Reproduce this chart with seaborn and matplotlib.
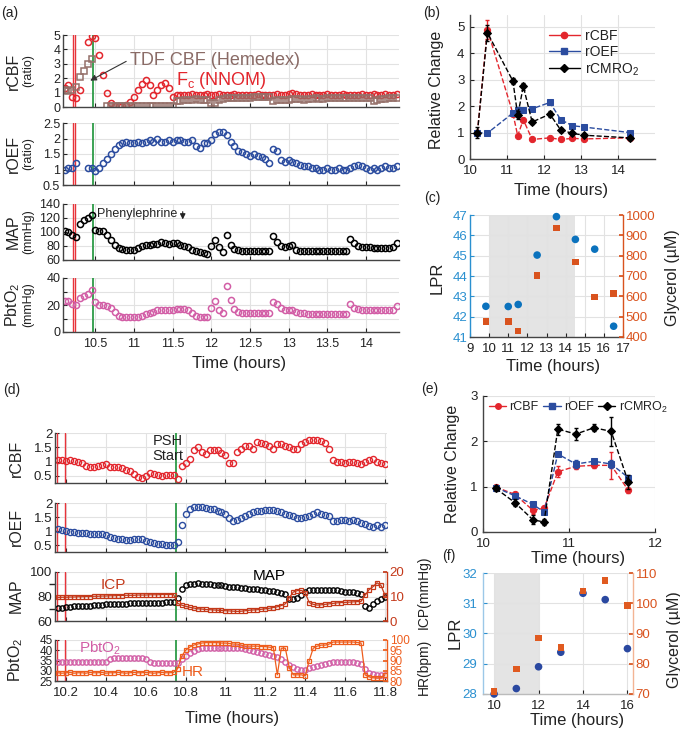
import numpy as np
import seaborn as sns
import matplotlib.pyplot as plt
from matplotlib.lines import Line2D
from matplotlib.ticker import FuncFormatter

nan = np.nan

# ---------------- panel (a): continuous monitoring, 0.05 h samples ----------------
a_time = np.round(10.10 + 0.05 * np.arange(87), 2)
a_rcbf_fc = [
    1.3, 1.5, 0.7, 0.6, 1.2, nan, 4.5, 4.9, 4.8, 3.6,
    2.2, 1.0, 0.3, 0.1, 0.05, 0.05, 0.15, 0.35, 0.7, 1.2,
    1.6, 1.9, 1.5, 0.8, 1.2, 1.5, 1.65, 1.3, 0.7, 0.8,
    0.85, 0.8, 0.85, 0.9, 0.85, 0.8, 0.85, 0.9, 0.85, 0.8,
    0.9, 0.85, 0.8, 0.85, 0.9, 0.85, 0.8, 0.85, 0.8, 0.85,
    0.9, 0.85, 0.8, 0.85, 0.8, 0.9, 0.85, 0.8, 0.9, 0.95,
    0.9, 0.85, 0.8, 0.85, 0.9, 0.85, 0.8, 0.85, 0.9, 0.85,
    0.8, 0.85, 0.9, 0.85, 0.85, 0.8, 0.85, 0.9, 0.85, 0.8,
    0.9, 0.85, 0.85, 0.9, 0.85, 0.85, 0.9]
a_rcbf_tdf = [
    1.2, 1.1, 1.2, 1.4, 2.1, 2.5, 3.0, 3.3, nan, nan,
    nan, 0.1, 0.05, 0.05, 0.05, 0.05, 0.05, 0.05, 0.05, 0.05,
    0.05, 0.05, 0.05, 0.05, 0.05, 0.05, 0.05, 0.05, 0.05, 0.45,
    0.45, 0.5, 0.5, 0.5, 0.55, 0.5, 0.5, 0.5, 0.25, 0.3,
    0.5, 0.55, 0.6, 0.6, 0.6, 0.65, 0.6, 0.65, 0.65, 0.7,
    0.7, 0.7, 0.7, 0.7, 0.45, 0.5, 0.5, 0.5, 0.5, 0.55,
    0.55, 0.55, 0.5, 0.55, 0.55, 0.6, 0.55, 0.55, 0.6, 0.6,
    0.6, 0.6, 0.6, 0.65, 0.6, 0.6, 0.65, 0.65, 0.65, 0.6,
    0.45, 0.5, 0.55, 0.55, 0.6, 0.6, 0.6]
a_roef = [
    1.0, 1.05, 1.05, 1.2, nan, nan, 1.05, 1.05, 0.95, 1.05,
    1.2, 1.35, 1.5, 1.65, 1.8, 1.85, 1.9, 1.85, 1.85, 1.9,
    1.85, 1.9, 1.95, 1.9, 2.0, 1.9, 1.9, 1.95, 1.9, 1.95,
    1.95, 1.9, 1.9, 1.95, 1.75, 1.7, 1.85, 1.85, 1.95, 2.15,
    2.2, 2.2, 2.1, 1.9, 1.75, 1.6, 1.55, 1.5, 1.45, 1.5,
    1.45, 1.4, 1.35, 1.2, 1.65, 1.6, 1.3, 1.25, 1.3, 1.25,
    1.2, 1.15, 1.1, 1.1, 1.05, 1.05, 1.0, 1.0, 1.05, 1.0,
    1.0, 1.05, 1.0, 1.0, 1.05, 1.1, 1.15, 1.1, 1.05, 1.0,
    1.05, 1.0, 1.05, 1.1, 1.05, 1.05, 1.1]
a_map = [
    101, 100, 96, 93, 112, 117, 120, 125, 103, 102,
    101, 96, 88, 81, 77, 76, 75, 75, 75, 77,
    80, 82, 82, 83, 83, 86, 84, 83, 84, 85,
    82, 80, 78, 75, 73, 71, 70, 68, 80, 88,
    78, 72, 96, 82, 76, 74, 73, 73, 73, 73,
    73, 73, 73, 73, 95, 86, 80, 78, 80, 81,
    75, 73, 73, 73, 73, 73, 73, 73, 73, 73,
    73, 73, 73, 73, 90, 84, 80, 79, 78, 78,
    77, 77, 77, 77, 77, 78, 84]
a_pbto2 = [
    23, 23, 21, 20, 25, 27, 28, 31, 22, 20,
    20, 19, 18, 15, 12, 11, 11, 11, 11, 11,
    12, 13, 14, 15, 16, 16, 16, 16, 16, 17,
    17, 17, 16, 14, 12, 11, 11, 11, 18, 23,
    16, 14, 34, 24, 17, 15, 14, 14, 14, 14,
    14, 14, 14, 14, 22, 21, 18, 16, 16, 16,
    15, 14, 14, 13, 13, 13, 13, 13, 13, 13,
    13, 13, 13, 13, 21, 18, 17, 16, 16, 16,
    16, 16, 16, 16, 16, 16, 19]
a_red_lines = [10.206, 10.236]
a_green_line = 10.465

# ---------------- panel (b) ----------------
b_time = [10.2, 10.47, 11.16, 11.29, 11.44, 11.68, 12.16, 12.45, 12.77, 13.08, 14.32]
b_rcbf = [1.0, 4.9, 1.72, 0.88, 1.49, 0.74, 0.8, 0.74, 0.78, 0.76, 0.8]
b_roef = [1.0, 0.98, 1.74, 1.87, 1.87, 1.9, 2.14, 1.49, 1.26, 1.21, 1.0]
b_rcmro2 = [1.0, 4.78, 2.95, 1.65, 2.75, 1.4, 1.7, 1.1, 0.97, 0.9, 0.8]
b_rcbf_err = [0.1, 0.35, 0.08, 0.05, 0.08, 0.04, 0.04, 0.04, 0.04, 0.04, 0.04]
b_roef_err = [0.05, 0.05, 0.08, 0.08, 0.06, 0.05, 0.06, 0.05, 0.05, 0.04, 0.04]
b_rcmro2_err = [0.2, 0.3, 0.12, 0.15, 0.12, 0.08, 0.1, 0.08, 0.08, 0.06, 0.05]

# ---------------- panel (c) ----------------
c_time = [9.83, 11.0, 11.52, 12.51, 13.52, 14.51, 15.52, 16.51]
c_lpr = [42.51, 42.5, 42.6, 45.03, 46.92, 45.8, 45.32, 41.53]
c_gly = [475, 475, 429, 702, 936, 770, 596, 613]
c_shade = (10, 14.5)

# ---------------- panel (d): 0.02 h samples ----------------
d_time = np.round(10.16 + 0.02 * np.arange(83), 2)
d_rcbf = [
    1.05, 1.05, 1.03, 1.05, 1.03, 1.0, 0.95, 0.85, 0.8, 0.82,
    0.86, 0.88, 0.92, 0.82, 0.8, 0.8, 0.76, 0.72, 0.68, 0.58,
    0.45, 0.43, 0.5, 0.6, 0.55, 0.53, 0.5, 0.52, 0.53, 0.53,
    0.4, 0.85, 0.95, 1.1, 1.4, 1.5, 1.35, 1.25, 1.4, 1.4,
    1.4, 1.3, 1.22, 0.95, 0.95, 1.35, 1.45, 1.55, 1.55, 1.45,
    1.7, 1.65, 1.6, 1.55, 1.45, 1.6, 1.6, 1.55, 1.5, 1.45,
    1.45, 1.6, 1.7, 1.75, 1.75, 1.77, 1.72, 1.65, 1.45, 1.05,
    1.0, 0.97, 0.95, 1.0, 0.98, 0.95, 0.92, 0.97, 1.05, 1.1,
    1.0, 0.95, 0.93]
d_roef = [
    1.07, 1.05, 1.0, 0.97, 0.95, 0.93, 0.92, 0.92, 0.9, 0.9,
    0.9, 0.88, 0.85, 0.8, 0.76, 0.72, 0.7, 0.67, 0.68, 0.72,
    0.73, 0.7, 0.66, 0.62, 0.58, 0.55, 0.52, 0.5, 0.5, 0.5,
    0.6, 1.2, 1.6, 1.8, 1.85, 1.87, 1.85, 1.82, 1.8, 1.77,
    1.72, 1.68, 1.62, 1.45, 1.35, 1.4, 1.48, 1.55, 1.62, 1.67,
    1.7, 1.72, 1.74, 1.76, 1.75, 1.72, 1.68, 1.62, 1.58, 1.55,
    1.48, 1.45, 1.5, 1.55, 1.62, 1.68, 1.62, 1.58, 1.55, 1.35,
    1.35, 1.4, 1.38, 1.35, 1.38, 1.35, 1.3, 1.25, 1.18, 1.15,
    1.2, 1.15, 1.2]
d_map = [
    71, 71, 71.5, 71.5, 72, 72, 72, 72.5, 72.5, 73,
    73, 73, 73.5, 73.5, 74, 74, 74, 74, 74.5, 74.5,
    74.5, 75, 75, 75, 75, 75, 75, 75.5, 75.5, 75.5,
    79, 86, 89, 90, 90, 91, 90.5, 90, 90, 89.5,
    89, 89, 88.5, 88, 88, 87.5, 87, 87, 86.5, 86,
    86, 85.5, 85, 84.5, 84.5, 84, 83, 82, 78, 78,
    79, 81, 84, 85, 85.5, 85.5, 85.5, 85, 85, 85,
    85, 84.5, 84, 84, 83.5, 83, 82, 72, 71, 74,
    76, 78, 80]
d_icp = [
    9.6, 9.7, 9.7, 9.8, 9.8, 9.9, 9.9, 10.0, 10.0, 10.1,
    10.1, 10.2, 10.2, 10.3, 10.3, 10.4, 10.4, 10.5, 10.5, 10.5,
    10.6, 10.6, 10.6, 10.7, 10.7, 10.7, 10.8, 10.8, 10.8, 10.8,
    7.2, 6.5, 6.0, 5.6, 5.3, 5.0, 4.9, 4.7, 4.6, 4.5,
    4.4, 4.3, 4.2, 4.1, 4.0, 3.9, 4.0, 4.2, 4.4, 4.5,
    4.6, 4.8, 5.0, 5.2, 5.5, 5.8, 6.3, 7.0, 9.5, 11.8,
    12.4, 12.5, 11.5, 7.5, 6.8, 6.5, 6.6, 6.8, 7.0, 7.2,
    7.4, 7.5, 7.6, 7.7, 7.8, 7.9, 8.0, 10.5, 12.8, 14.0,
    15.6, 14.5, 10.5]
d_pbto2 = [
    34.5, 34.5, 34.5, 34.5, 34.5, 34.5, 34.5, 34.5, 34.5, 34.5,
    34.5, 34.5, 34.5, 35.5, 36, 36, 36, 36, 36, 36,
    36, 36, 35.5, 34.5, 34, 34, 34, 34, 34, 34,
    34, 35.5, 37, 38.5, 39.5, 40.5, 41, 41, 41, 41,
    41, 41, 41, 41, 41, 41, 41, 40.5, 40, 39.5,
    39, 38.5, 38, 37.5, 37, 36.5, 35.5, 34.5, 33, 32,
    31, 30.5, 30.5, 31.5, 32, 32.5, 33, 33.5, 34, 34.5,
    34.5, 34.5, 34.5, 34.5, 34.5, 34, 33.5, 31, 29, 28.5,
    28, 28, 28]
d_hr = [
    84, 83.8, 84, 84.2, 83.8, 84, 84, 83.8, 84.2, 84,
    84, 84.2, 83.8, 84, 84, 84.2, 84, 83.8, 84, 84.2,
    84, 84, 84.2, 84, 83.8, 84, 84.2, 84, 84, 84.2,
    86, 92, 95, 96.5, 97.5, 98, 98.5, 98.7, 98.7, 98.7,
    98.7, 98.5, 98.5, 98.3, 98, 98, 97.5, 97, 97, 97,
    97, 96.8, 96.8, 96.5, 96.3, 83, 96, 96, 86.5, 83,
    83, 83, 82.5, 90, 96, 97, 97.5, 97.5, 98, 99,
    99, 99, 99, 99, 99, 98.8, 98.5, 83, 82, 81.5,
    81.5, 81.5, 83]
d_red_lines = [10.153, 10.195]
d_green_line = 10.75

# ---------------- panel (e) ----------------
e_time = [10.15, 10.37, 10.58, 10.71, 10.87, 11.08, 11.29, 11.49, 11.69]
e_rcbf = [0.99, 0.83, 0.48, 0.52, 1.33, 1.45, 1.47, 1.47, 0.92]
e_roef = [0.98, 0.8, 0.61, 0.44, 1.72, 1.5, 1.56, 1.5, 1.2]
e_rcmro2 = [0.96, 0.65, 0.27, 0.22, 2.27, 2.16, 2.3, 2.22, 1.1]
e_rcbf_err = [0.04, 0.04, 0.08, 0.06, 0.12, 0.06, 0.06, 0.3, 0.06]
e_roef_err = [0.04, 0.04, 0.05, 0.05, 0.05, 0.08, 0.05, 0.08, 0.06]
e_rcmro2_err = [0.06, 0.07, 0.1, 0.07, 0.12, 0.13, 0.08, 0.32, 0.15]

# ---------------- panel (f) ----------------
f_time = [10, 11, 12, 13, 14, 15, 16]
f_lpr = [28.0, 28.18, 28.9, 29.38, 31.33, 31.12, 29.5]
f_gly = [70.9, 78.2, 88.5, 85.4, 104.1, 107.5, 99.2]
f_shade = (10, 12)

# colours
RED = '#e3262d'
BROWN = '#957069'
BLUE = '#2b4c9f'
PINK = '#d25ea6'
GREEN = '#2c9b46'
VRED = '#e8333a'
ICPC = '#c4391a'
HRC = '#ee5d1d'
LPRC = '#0b72bd'
GLYC = '#d9531e'
LPRTICK = '#2a90d0'

sns.set_theme(style="whitegrid")
plt.rcParams['font.family'] = ['Liberation Sans', 'DejaVu Sans']
plt.rcParams['mathtext.default'] = 'regular'
plt.rcParams['text.color'] = '#222222'

W, H = 680, 730
fig = plt.figure(figsize=(6.8, 7.3), dpi=100)
gfmt = FuncFormatter(lambda v, p: f"{v:g}")


def box(l, t, r, b):
    return [l / W, 1 - b / H, (r - l) / W, (b - t) / H]


def ftext(x, y, s, **kw):
    kw.setdefault('ha', 'center')
    kw.setdefault('va', 'center')
    fig.text(x / W, 1 - y / H, s, **kw)


def style(ax):
    ax.tick_params(axis='both', direction='in', length=3, width=0.8,
                   bottom=True, left=True, labelsize=9, pad=2, colors='#222222')
    ax.tick_params(axis='x', pad=4)
    for s in ['top', 'right']:
        ax.spines[s].set_visible(False)
    for s in ['left', 'bottom']:
        ax.spines[s].set_color('#444444')
        ax.spines[s].set_linewidth(1.0)
    ax.set_xlabel('')
    ax.set_ylabel('')
    ax.grid(True, color='#e2e2e2', linewidth=0.8)
    ax.set_axisbelow(True)
    ax.xaxis.set_major_formatter(gfmt)
    ax.yaxis.set_major_formatter(gfmt)


def dots(ax, t, v, color, marker='o', ms=4.4, line=False, mew=1.1):
    sns.lineplot(x=t, y=v, ax=ax, color=color, marker=marker, markersize=ms,
                 markerfacecolor='none', markeredgecolor=color, markeredgewidth=mew,
                 linestyle='-' if line else '', linewidth=0.9 if line else 0,
                 estimator=None, sort=False)


def twin_style(ax2, color, size=9.5):
    ax2.grid(False)
    for s in ['top', 'left', 'bottom']:
        ax2.spines[s].set_visible(False)
    ax2.spines['right'].set_color(color)
    ax2.spines['right'].set_linewidth(1.0)
    ax2.tick_params(axis='y', direction='in', length=3, right=True, labelsize=size,
                    colors=color, pad=2)
    ax2.set_ylabel('')
    ax2.yaxis.set_major_formatter(gfmt)


# ====================== (a) ======================
a_xt = [10.5, 11, 11.5, 12, 12.5, 13, 13.5, 14]
a_boxes = [(35, 107), (123, 185), (204, 260), (278, 332)]
a_axes = [fig.add_axes(box(63, t, 399, b)) for t, b in a_boxes]
ax1, ax2, ax3, ax4 = a_axes

dots(ax1, a_time, a_rcbf_fc, RED)
dots(ax1, a_time, a_rcbf_tdf, BROWN, marker='s', ms=3.8)
dots(ax2, a_time, a_roef, BLUE)
dots(ax3, a_time, a_map, 'black')
dots(ax4, a_time, a_pbto2, PINK)

ylims = [(0, 5), (0.5, 2.5), (60, 140), (0, 40)]
yticks = [[0, 1, 2, 3, 4, 5], [0.5, 1, 1.5, 2, 2.5], [60, 80, 100, 120, 140], [0, 10, 20, 30, 40]]
for ax, yl, yt in zip(a_axes, ylims, yticks):
    style(ax)
    ax.set_xlim(10.08, 14.43)
    ax.set_ylim(*yl)
    ax.set_yticks(yt)
    ax.set_xticks(a_xt)
    for x in a_red_lines:
        ax.axvline(x, color=VRED, lw=1.0, zorder=1)
    ax.axvline(a_green_line, color=GREEN, lw=1.3, zorder=1)
    if ax is not ax4:
        ax.tick_params(labelbottom=False)
ax4.set_yticklabels(['0', '', '20', '', '40'])

ax1.annotate('', xy=(10.40, 1.74), xytext=(10.93, 3.26),
             arrowprops=dict(arrowstyle='-|>', color='#333333', lw=0.8, mutation_scale=9))
ax1.text(10.95, 3.26, 'TDF CBF (Hemedex)', color='#8a6b66', fontsize=13,
         ha='left', va='center')
ax1.text(11.54, 1.85, 'F$_c$ (NNOM)', color=RED, fontsize=13, ha='left', va='center')
ax3.text(10.52, 126, 'Phenylephrine', fontsize=9, ha='left', va='center', color='#222222')
ax3.annotate('', xy=(11.63, 114), xytext=(11.63, 133),
             arrowprops=dict(arrowstyle='-|>', color='#222222', lw=0.8, mutation_scale=8))

ftext(10, 13, '(a)', fontsize=10)
a_ylab = [('rCBF', '(ratio)', 71), ('rOEF', '(ratio)', 154),
          ('MAP', '(mmHg)', 232), ('PbtO$_2$', '(mmHg)', 305)]
for big, small, yc in a_ylab:
    ftext(13, yc, big, fontsize=11.5, rotation=90)
    ftext(28, yc, small, fontsize=9, rotation=90)
ftext(239, 364, 'Time (hours)', fontsize=12)

# ====================== (b) ======================
ax_b = fig.add_axes(box(470, 15, 655, 159))
b_series = [(b_rcbf, b_rcbf_err, RED, 'o', 'rCBF'),
            (b_roef, b_roef_err, BLUE, 's', 'rOEF'),
            (b_rcmro2, b_rcmro2_err, 'black', 'D', 'rCMRO$_2$')]
handles = []
for vals, err, c, m, lab in b_series:
    ax_b.errorbar(b_time, vals, yerr=err, fmt='none', ecolor=c, elinewidth=1, capsize=1.5)
    sns.lineplot(x=b_time, y=vals, ax=ax_b, color=c, marker=m,
                 markersize=4.5 if m != 'D' else 4, markeredgecolor=c,
                 linestyle='--', linewidth=1.0, estimator=None, sort=False)
    handles.append(Line2D([0], [0], color=c, marker=m, markersize=4.5, lw=1.0, label=lab))
style(ax_b)
ax_b.set_xlim(10, 15)
ax_b.set_ylim(0, 5.45)
ax_b.set_xticks([10, 11, 12, 13, 14])
ax_b.set_yticks([0, 1, 2, 3, 4, 5])
ax_b.tick_params(labelsize=9.5)
ax_b.tick_params(axis='y', pad=4)
ax_b.legend(handles=handles, loc='upper left', bbox_to_anchor=(0.36, 0.99), frameon=False,
            fontsize=10, handlelength=2.2, handletextpad=0.4, labelspacing=0.15)
ftext(432, 13, '(b)', fontsize=10)
ftext(436, 90, 'Relative Change', fontsize=11.5, rotation=90)
ftext(561, 191, 'Time (hours)', fontsize=12)

# ====================== (c) ======================
ax_c = fig.add_axes(box(470, 215, 623, 337))
ax_c.axvspan(*c_shade, color='#e4e4e4', zorder=0, lw=0)
sns.scatterplot(x=c_time, y=c_lpr, ax=ax_c, color=LPRC, s=30, edgecolor='none',
                clip_on=False, zorder=3)
style(ax_c)
ax_c.set_xlim(9, 17)
ax_c.set_ylim(41, 47)
ax_c.set_xticks(list(range(9, 18)))
ax_c.set_yticks(list(range(41, 48)))
ax_c.tick_params(axis='y', colors=LPRTICK, labelsize=9.5)
ax_c.tick_params(axis='x', labelsize=9.5)
ax_c.spines['left'].set_color(LPRTICK)
ax_c2 = ax_c.twinx()
sns.scatterplot(x=c_time, y=c_gly, ax=ax_c2, color=GLYC, marker='s', s=22,
                edgecolor='none', clip_on=False)
ax_c2.set_ylim(400, 1000)
ax_c2.set_yticks(list(range(400, 1001, 100)))
twin_style(ax_c2, GLYC)
ftext(432, 198, '(c)', fontsize=10)
ftext(437, 278, 'LPR', fontsize=12, rotation=90)
ftext(672, 278, 'Glycerol (µM)', fontsize=11.5, rotation=90)
ftext(553, 366, 'Time (hours)', fontsize=12)

# ====================== (d) ======================
d_xt = [10.2, 10.4, 10.6, 10.8, 11, 11.2, 11.4, 11.6, 11.8]
d_boxes = [(433, 483), (503, 552), (572, 621), (640, 681)]
d_axes = [fig.add_axes(box(55, t, 387, b)) for t, b in d_boxes]
dx1, dx2, dx3, dx4 = d_axes

dots(dx1, d_time, d_rcbf, RED, ms=4.4, mew=1.0)
dots(dx2, d_time, d_roef, BLUE, ms=4.4, mew=1.0)
dots(dx3, d_time, d_map, 'black', ms=3.8, mew=1.0)
dots(dx4, d_time, d_pbto2, PINK, ms=3.8, mew=1.0)

d_ylims = [(0.25, 2), (0.25, 2), (60, 100), (25, 45)]
d_yticks = [[0.5, 1, 1.5, 2], [0.5, 1, 1.5, 2], [60, 80, 100], [25, 30, 35, 40, 45]]
for ax, yl, yt in zip(d_axes, d_ylims, d_yticks):
    style(ax)
    ax.set_xlim(10.145, 11.81)
    ax.set_ylim(*yl)
    ax.set_yticks(yt)
    ax.set_xticks(d_xt)
    ax.tick_params(labelsize=9.5)
    for x in d_red_lines:
        ax.axvline(x, color=VRED, lw=1.0, zorder=1)
    ax.axvline(d_green_line, color=GREEN, lw=1.3, zorder=1)
    if ax is not dx4:
        ax.tick_params(labelbottom=False)
dx4.tick_params(axis='y', labelsize=8.5, pad=1.5)
dx3.set_yticks([70, 90], minor=True)
dx3.grid(True, which='minor', color='#e2e2e2', linewidth=0.8)

dx3b = dx3.twinx()
dots(dx3b, d_time, d_icp, ICPC, marker='s', ms=3.2, line=True, mew=0.9)
dx3b.set_ylim(0, 20)
dx3b.set_yticks([0, 10, 20])
twin_style(dx3b, ICPC)

dx4b = dx4.twinx()
dots(dx4b, d_time, d_hr, HRC, marker='s', ms=3.2, line=True, mew=0.9)
dx4b.set_ylim(80, 100)
dx4b.set_yticks([80, 85, 90, 95, 100])
twin_style(dx4b, HRC, size=8.5)

dx1.text(10.71, 1.45, 'PSH\nStart', fontsize=10.5, ha='center', va='center',
         linespacing=1.05, color='#222222')
dx3b.text(10.435, 14.7, 'ICP', color=ICPC, fontsize=11, ha='center', va='center')
dx3b.text(11.22, 18.3, 'MAP', color='black', fontsize=11, ha='center', va='center')
dx4b.text(10.37, 96.1, 'PbtO$_2$', color=PINK, fontsize=11, ha='center', va='center')
dx4b.text(10.835, 84.4, 'HR', color=HRC, fontsize=11, ha='center', va='center')

ftext(12, 390, '(d)', fontsize=10)
for lab, yc in [('rCBF', 458), ('rOEF', 527), ('MAP', 596), ('PbtO$_2$', 660)]:
    ftext(16, yc, lab, fontsize=11.5, rotation=90)
ftext(424, 592, 'ICP(mmHg)', fontsize=10, rotation=90)
ftext(424, 667, 'HR(bpm)', fontsize=10, rotation=90)
ftext(232, 718, 'Time (hours)', fontsize=12)

# ====================== (e) ======================
ax_e = fig.add_axes(box(483, 396, 655, 532))
e_series = [(e_rcbf, e_rcbf_err, RED, 'o', 'rCBF'),
            (e_roef, e_roef_err, BLUE, 's', 'rOEF'),
            (e_rcmro2, e_rcmro2_err, 'black', 'D', 'rCMRO$_2$')]
handles = []
for vals, err, c, m, lab in e_series:
    ax_e.errorbar(e_time, vals, yerr=err, fmt='none', ecolor=c, elinewidth=1, capsize=1.5)
    sns.lineplot(x=e_time, y=vals, ax=ax_e, color=c, marker=m,
                 markersize=4.5 if m != 'D' else 4, markeredgecolor=c,
                 linestyle='--', linewidth=1.0, estimator=None, sort=False)
    handles.append(Line2D([0], [0], color=c, marker=m, markersize=4, lw=1.0, label=lab))
style(ax_e)
ax_e.set_xlim(10, 12)
ax_e.set_ylim(0, 3)
ax_e.set_xticks([10, 11, 12])
ax_e.set_yticks([0, 1, 2, 3])
ax_e.tick_params(labelsize=9.5)
ax_e.tick_params(axis='y', pad=4)
ax_e.legend(handles=handles, loc='upper left', bbox_to_anchor=(-0.01, 1.03), frameon=False,
            ncol=3, fontsize=9, handlelength=1.4, handletextpad=0.25, columnspacing=0.35,
            borderaxespad=0.2)
ftext(430, 389, '(e)', fontsize=10)
ftext(452, 464, 'Relative Change', fontsize=11.5, rotation=90)
ftext(578, 558, 'Time (hours)', fontsize=12)

# ====================== (f) ======================
ax_f = fig.add_axes(box(483, 573, 633, 694))
ax_f.axvspan(*f_shade, color='#e4e4e4', zorder=0, lw=0)
sns.scatterplot(x=f_time, y=f_lpr, ax=ax_f, color='#2a48a0', s=30, edgecolor='none',
                clip_on=False, zorder=3)
style(ax_f)
ax_f.set_xlim(9.5, 16.25)
ax_f.set_ylim(28, 32)
ax_f.set_xticks([10, 12, 14, 16])
ax_f.set_yticks([28, 29, 30, 31, 32])
ax_f.tick_params(axis='y', colors=LPRTICK, labelsize=9.5, pad=4)
ax_f.tick_params(axis='x', labelsize=9.5)
ax_f.spines['left'].set_color('#9cc8e8')
ax_f.spines['bottom'].set_color('#bbbbbb')
ax_f2 = ax_f.twinx()
sns.scatterplot(x=f_time, y=f_gly, ax=ax_f2, color='#e05a20', marker='s', s=22,
                edgecolor='none', clip_on=False, zorder=4)
ax_f2.set_ylim(70, 110)
ax_f2.set_yticks([70, 80, 90, 100, 110])
twin_style(ax_f2, GLYC)
ax_f2.spines['right'].set_color('#f3b494')
ftext(449, 556, '(f)', fontsize=10)
ftext(455, 633, 'LPR', fontsize=12, rotation=90)
ftext(674, 640, 'Glycerol (µM)', fontsize=11.5, rotation=90)
ftext(577, 721, 'Time (hours)', fontsize=12)

fig.savefig('out.png', dpi=100)
